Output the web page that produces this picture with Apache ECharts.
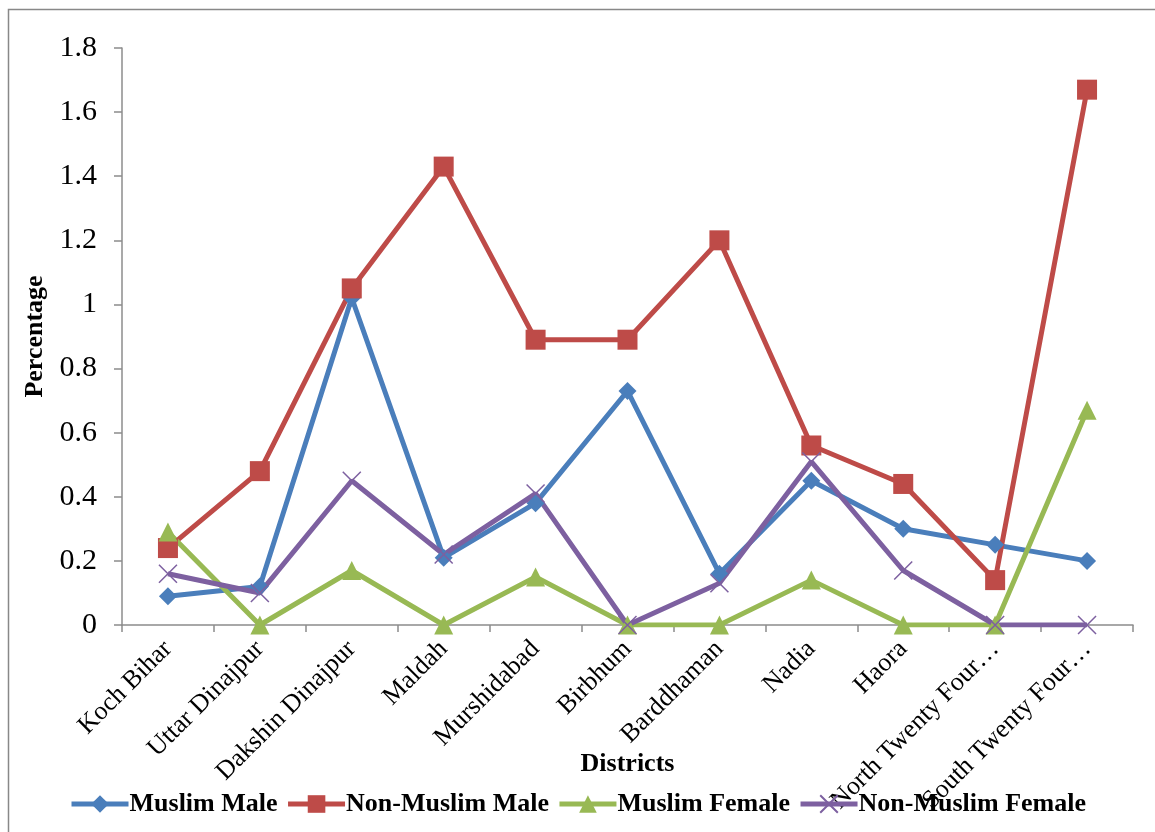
<!DOCTYPE html>
<html>
<head>
<meta charset="utf-8">
<script src="https://cdn.jsdelivr.net/npm/echarts@6/dist/echarts.min.js"></script>
<style>
  html, body { margin: 0; padding: 0; background: #fff; }
  #chart { width: 1155px; height: 832px; }
</style>
</head>
<body>
<div id="chart"></div>
<script>
// District-wise percentages by community and sex
const districts = ['Koch Bihar', 'Uttar Dinajpur', 'Dakshin Dinajpur', 'Maldah', 'Murshidabad',
  'Birbhum', 'Barddhaman', 'Nadia', 'Haora', 'North Twenty Four Parganas', 'South Twenty Four Parganas'];
const muslimMale      = [0.09, 0.12, 1.02, 0.21, 0.38, 0.73, 0.16, 0.45, 0.30, 0.25, 0.20];
const nonMuslimMale   = [0.24, 0.48, 1.05, 1.43, 0.89, 0.89, 1.20, 0.56, 0.44, 0.14, 1.67];
const muslimFemale    = [0.29, 0.00, 0.17, 0.00, 0.15, 0.00, 0.00, 0.14, 0.00, 0.00, 0.67];
const nonMuslimFemale = [0.16, 0.10, 0.45, 0.22, 0.41, 0.00, 0.13, 0.51, 0.17, 0.00, 0.00];
const yTicks = { min: 0, max: 1.8, interval: 0.2 };

const serif = '"Liberation Serif", "DejaVu Serif", serif';
const axisGray = '#8c8c8c';
const crossPath = 'path://M0,0L10,10M10,0L0,10';

function series(name, data, color, symbol, size, extra) {
  return Object.assign({
    name: name,
    type: 'line',
    data: data,
    symbol: symbol,
    symbolSize: size,
    showAllSymbol: true,
    lineStyle: { color: color, width: 5 },
    itemStyle: { color: color },
    emphasis: { disabled: true },
    z: 2
  }, extra || {});
}

const chart = echarts.init(document.getElementById('chart'));
chart.setOption({
  animation: false,
  backgroundColor: '#fff',
  textStyle: { fontFamily: serif },
  grid: { left: 122, right: 22, top: 48, bottom: 207, containLabel: false },
  legend: {
    top: 786,
    left: 'center',
    itemWidth: 57,
    itemHeight: 22,
    itemGap: 8,
    lineStyle: { width: 5 },
    textStyle: { fontFamily: serif, fontSize: 26, fontWeight: 'bold', color: '#000', padding: [0, 0, 0, -4] },
    data: ['Muslim Male', 'Non-Muslim Male', 'Muslim Female', 'Non-Muslim Female']
  },
  xAxis: {
    type: 'category',
    data: districts,
    boundaryGap: true,
    name: 'Districts',
    nameLocation: 'middle',
    nameGap: 126,
    nameMoveOverlap: false,
    nameTextStyle: { fontFamily: serif, fontSize: 26, fontWeight: 'bold', color: '#000' },
    axisLine: { lineStyle: { color: axisGray, width: 1.5 } },
    axisTick: { show: true, alignWithLabel: false, length: 7, lineStyle: { color: axisGray, width: 1.5 } },
    axisLabel: {
      rotate: 45,
      interval: 0,
      margin: 20,
      fontFamily: serif,
      fontSize: 26,
      color: '#000',
      formatter: function (v) {
        return v.length > 20 ? v.slice(0, 17) + '…' : v;
      }
    },
    splitLine: { show: false }
  },
  yAxis: {
    type: 'value',
    min: yTicks.min,
    max: yTicks.max,
    interval: yTicks.interval,
    name: 'Percentage',
    nameLocation: 'middle',
    nameGap: 74,
    nameRotate: 90,
    nameMoveOverlap: false,
    nameTextStyle: { fontFamily: serif, fontSize: 26, fontWeight: 'bold', color: '#000' },
    axisLine: { show: true, lineStyle: { color: axisGray, width: 1.5 } },
    axisTick: { show: true, inside: false, length: 8, lineStyle: { color: axisGray, width: 1.5 } },
    axisLabel: {
      margin: 25,
      fontFamily: serif,
      fontSize: 30,
      color: '#000',
      formatter: function (v) { return String(Math.round(v * 10) / 10); }
    },
    splitLine: { show: false }
  },
  graphic: [{
    type: 'rect',
    shape: { x: 8.5, y: 9.5, width: 1160, height: 840 },
    style: { fill: 'none', stroke: '#888', lineWidth: 1.5 },
    silent: true,
    z: -1
  }],
  series: [
    series('Muslim Male', muslimMale, '#4A7EBB', 'diamond', 18),
    series('Non-Muslim Male', nonMuslimMale, '#BE4B48', 'rect', 20),
    series('Muslim Female', muslimFemale, '#98B954', 'triangle', 19),
    series('Non-Muslim Female', nonMuslimFemale, '#7D60A0', crossPath, 18, {
      itemStyle: { color: 'rgba(0,0,0,0)', borderColor: '#7D60A0', borderWidth: 1.5 }
    })
  ]
});
</script>
</body>
</html>
